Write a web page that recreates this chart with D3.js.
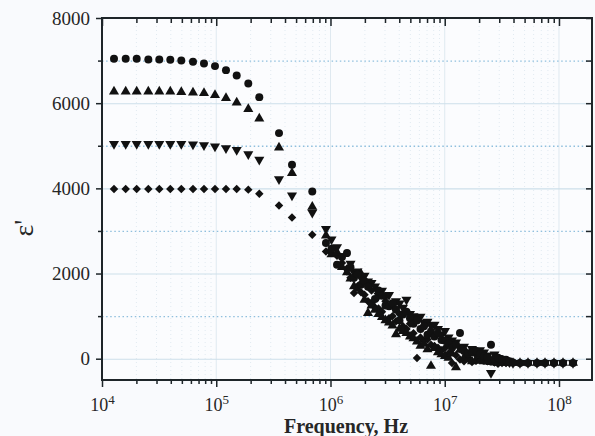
<!DOCTYPE html>
<html>
<head>
<meta charset="utf-8">
<script src="https://cdn.jsdelivr.net/npm/d3@7"></script>
<style>
  html, body { margin: 0; padding: 0; background: #f9fafd; }
  svg { display: block; }
  text { font-family: "Liberation Serif", "Times New Roman", serif; fill: #262626; }
</style>
</head>
<body>
<svg id="chart" width="595" height="436"></svg>
<script>
// Measurement frequencies (Hz), shared by all four curves
const freqHz = [
  12735, 16122, 20122, 25432, 31732, 39610, 49442, 62577, 78113, 97499,
  121680, 151010, 190760, 238120,
  354250, 460260, 692790, 913010,
  1020200, 1140000, 1260900, 1394500, 1496700, 1606300, 1723500, 1849300,
  1984400, 2129300, 2284800, 2451600, 2630700, 2822900, 3029400, 3250900,
  3489000, 3744400, 4017700, 4310800, 4625800, 4963700, 5326300, 5715300,
  6133000, 6581100, 7062200, 7578400, 8132300, 8726600, 9365500,
  10051000, 10786000, 11575000, 12546000, 13598000, 14739000, 15976000,
  17317000, 18770000, 20346000, 22053000, 23666000, 25396000, 27257000,
  29254000, 31711000, 34375000, 36884000, 39574000,
  45561000, 53544000, 64180000, 75440000, 90413000, 108390000, 132620000
];

// Real permittivity for each curve
const epsCircle = [
  7041, 7041, 7041, 7025, 7025, 7018, 7001, 6971, 6931, 6870, 6776, 6649, 6461, 6142,
  5297, 4553, 3927, 2715,
  2580, 2206, 2390, 2480, 2150, 1900, 1980,
  1737, 1820, 1690, 1300, 1400, 1600, 1480, 1250, 1230, 1300, 1150, 900,
  1040, 1100, 950, 820, 900, 700, 760, 560, 640, 520, 600, 440,
  420, 350, 260, 330, 602, 180, 120, 150, 180, 100, 60, 40, 330, 0, 20, -10, -23, -60, -90,
  -100, -100, -100, -100, -100, -100, -100
];
const epsTriUp = [
  6274, 6274, 6274, 6274, 6274, 6274, 6259, 6250, 6236, 6189, 6119, 6015, 5860, 5640,
  4959, 4358, 3567, 2890,
  2450, 2500, 2150, 2030, 1880, 1700, 1640,
  1995, 1380, 1072, 1250, 1150, 1050, 980, 900, 850, 780, 575, 700,
  650, 600, 520, 480, 400, 300, 350, 220, -170, 250, 150, 100,
  60, 20, 120, -200, 211, 20, -20, -60, -40, -50, -60, -70, -80, -90, -100, -100, -100, -100, -100,
  -100, -100, -100, -100, -100, -100, -100
];
const epsTriDown = [
  5046, 5046, 5046, 5046, 5046, 5046, 5046, 5030, 5016, 4983, 4945, 4905, 4804, 4671,
  4218, 3833, 3427, 3050,
  2800, 2620, 2400, 2080, 2230, 2025, 2050,
  1900, 1950, 1814, 1780, 1700, 1480, 1600, 1450, 1500, 1250, 1350, 1300,
  1200, 1385, 1050, 1000, 950, 990, 850, 870, 780, 800, 700, 560,
  650, 500, 430, 380, 251, 280, 150, 230, 90, 200, 150, 80, -336, 100, 16, -30, -60, -80, -100,
  -100, -100, -100, -100, -100, -100, -100
];
const epsDiamond = [
  3983, 3983, 3983, 3983, 3983, 3983, 3983, 3983, 3983, 3983, 3983, 3983, 3970, 3873,
  3598, 3316, 2910, 2518,
  2480, 2420, 2250, 2120, 1900, 1542, 1700,
  1560, 1500, 1350, 1600, 1200, 1180, 1100, 1350, 950, 1000, 880, 1050,
  760, 700, 820, 600, 16, 500, 420, 450, 330, 300, 260, 200,
  250, 120, -100, 80, -20, -60, 30, -80, -50, -30, -40, -60, -60, -90, -120, -100, -100, -100, -100,
  -100, -100, -100, -100, -100, -100, -100
];

// Axis ticks
const yMajorTicks = [0, 2000, 4000, 6000, 8000];
const yMinorTicks = [1000, 3000, 5000, 7000];
const xDecades = [1e4, 1e5, 1e6, 1e7, 1e8];

const svg = d3.select("#chart");
const plotL = 102, plotR = 592, plotT = 18, plotB = 380;

const x = d3.scaleLog().domain([1e4, Math.pow(10, 8.289)]).range([plotL, plotR]);
const y = d3.scaleLinear().domain([-500, 8000]).range([plotB, plotT]);

const xAll = x.ticks().filter(d => d >= 1e4 && d <= x.domain()[1]);
const xMinor = xAll.filter(d => !xDecades.includes(d));

// plot background
svg.append("rect").attr("x", plotL).attr("y", plotT)
  .attr("width", plotR - plotL).attr("height", plotB - plotT)
  .attr("fill", "#fbfcfe");

// faint vertical grid
const vgrid = svg.append("g");
vgrid.selectAll("line.vmin").data(xMinor).join("line")
  .attr("class", "vmin")
  .attr("x1", d => x(d)).attr("x2", d => x(d))
  .attr("y1", plotT).attr("y2", plotB)
  .attr("stroke", "#e1eaf1").attr("stroke-width", 1)
  .attr("stroke-dasharray", "1,3");
vgrid.selectAll("line.vmaj").data(xDecades).join("line")
  .attr("class", "vmaj")
  .attr("x1", d => x(d)).attr("x2", d => x(d))
  .attr("y1", plotT).attr("y2", plotB)
  .attr("stroke", "#dfe9f0").attr("stroke-width", 1);

// horizontal grid: solid at the labelled values, dotted in between
svg.append("g")
  .attr("transform", `translate(${plotL},0)`)
  .call(d3.axisLeft(y).tickValues(yMajorTicks).tickSize(-(plotR - plotL)).tickFormat(""))
  .call(g => g.select(".domain").remove())
  .call(g => g.selectAll("line").attr("stroke", "#cddfea").attr("stroke-width", 1.1));

svg.append("g")
  .attr("transform", `translate(${plotL},0)`)
  .call(d3.axisLeft(y).tickValues(yMinorTicks).tickSize(-(plotR - plotL)).tickFormat(""))
  .call(g => g.select(".domain").remove())
  .call(g => g.selectAll("line").attr("stroke", "#8fbfdd").attr("stroke-width", 1.3)
    .attr("stroke-dasharray", "1.5,2.6"));

// data markers
const sym = {
  circle: d3.symbol().type(d3.symbolCircle).size(50),
  tri: d3.symbol().type(d3.symbolTriangle).size(44),
  square: d3.symbol().type(d3.symbolSquare).size(36)
};
const marks = svg.append("g").attr("fill", "#111");

function drawSeries(values, path, rotate) {
  marks.append("g").selectAll("path")
    .data(freqHz.map((f, i) => ({ f, v: values[i] })))
    .join("path")
    .attr("d", path)
    .attr("transform", d => `translate(${x(d.f)},${y(d.v)}) rotate(${rotate})`);
}
drawSeries(epsDiamond, sym.square(), 45);
drawSeries(epsTriUp, sym.tri(), 0);
drawSeries(epsTriDown, sym.tri(), 180);
drawSeries(epsCircle, sym.circle(), 0);

// axes
const axisColor = "#1e2529";
function styleAxis(g) {
  g.select(".domain").remove();
  g.selectAll("line").attr("stroke", axisColor).attr("stroke-width", 1.5);
}

// bottom: decades with labels, minor ticks shorter
const gBottom = svg.append("g").attr("transform", `translate(0,${plotB})`)
  .call(d3.axisBottom(x).tickValues(xDecades).tickSize(7).tickFormat(""))
  .call(styleAxis);
gBottom.selectAll(".tick text").remove();
gBottom.selectAll(".tick").append("text")
  .attr("y", 31).attr("text-anchor", "middle").attr("font-size", 18)
  .each(function (d) {
    const t = d3.select(this);
    t.append("tspan").text("10");
    t.append("tspan").attr("dy", -7).attr("font-size", 13).text(Math.round(Math.log10(d)));
  });
svg.append("g").attr("transform", `translate(0,${plotB})`)
  .call(d3.axisBottom(x).tickValues(xMinor).tickSize(4).tickFormat(""))
  .call(styleAxis);

// top: ticks pointing into the plot
svg.append("g").attr("transform", `translate(0,${plotT})`)
  .call(d3.axisBottom(x).tickValues(xDecades).tickSize(8).tickFormat(""))
  .call(styleAxis);
svg.append("g").attr("transform", `translate(0,${plotT})`)
  .call(d3.axisBottom(x).tickValues(xMinor).tickSize(5).tickFormat(""))
  .call(styleAxis);

// left: labelled ticks outside
svg.append("g").attr("transform", `translate(${plotL},0)`)
  .call(d3.axisLeft(y).tickValues(yMajorTicks).tickSize(6).tickPadding(6).tickFormat(d3.format("d")))
  .call(styleAxis)
  .call(g => g.selectAll("text").attr("font-size", 19).attr("fill", "#262626")
    .attr("font-family", "'Liberation Serif', serif"));
svg.append("g").attr("transform", `translate(${plotL},0)`)
  .call(d3.axisLeft(y).tickValues(yMinorTicks).tickSize(4).tickFormat(""))
  .call(styleAxis);

// right: ticks pointing into the plot
svg.append("g").attr("transform", `translate(${plotR},0)`)
  .call(d3.axisLeft(y).tickValues(yMajorTicks.concat(yMinorTicks)).tickSize(6).tickFormat(""))
  .call(styleAxis);

// frame
svg.append("rect").attr("x", plotL).attr("y", plotT)
  .attr("width", plotR - plotL).attr("height", plotB - plotT)
  .attr("fill", "none").attr("stroke", axisColor).attr("stroke-width", 2);

// axis titles
svg.append("text")
  .attr("x", 346).attr("y", 433)
  .attr("text-anchor", "middle").attr("font-size", 20).attr("font-weight", "bold")
  .text("Frequency, Hz");

svg.append("text")
  .attr("transform", "translate(33,228) rotate(-90)")
  .attr("text-anchor", "middle").attr("font-size", 28)
  .text("ε'");
</script>
</body>
</html>
